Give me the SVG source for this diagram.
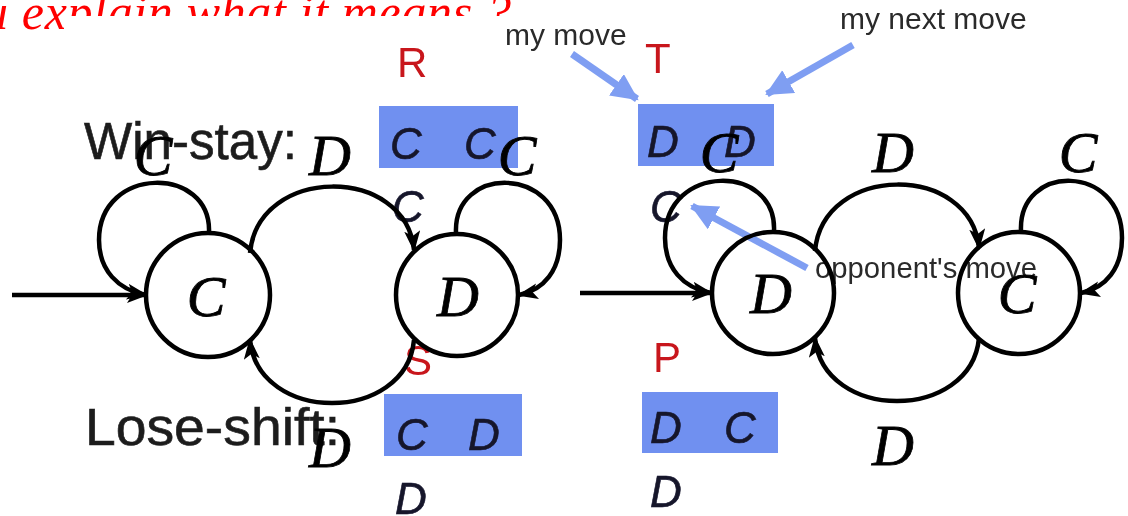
<svg xmlns="http://www.w3.org/2000/svg" width="1128" height="516" viewBox="0 0 1128 516">
<style>
.red-note{font-family:"Liberation Serif",serif;font-style:italic;font-size:50px;fill:#ff0000}
.lbl{font-family:"Liberation Sans",Arial,sans-serif;fill:#1e1e1e}
.big{font-size:51px;stroke:#1e1e1e;stroke-width:0.6}
.small{font-size:30px;fill:#2a2a2a}
.rlet{font-family:"Liberation Sans",Arial,sans-serif;font-size:42px;fill:#c8141a}
.mv{font-family:"Liberation Sans",Arial,sans-serif;font-style:italic;font-size:44px;fill:#14142a;stroke:#14142a;stroke-width:0.6}
.box{fill:#7090f0}
.barrow{stroke:#7f9ef2;stroke-width:7;fill:none;marker-end:url(#bhead)}
.node circle{fill:none;stroke:#000;stroke-width:4.5}
.math{font-family:"Liberation Serif",serif;font-style:italic;font-size:58px;fill:#000;stroke:#000;stroke-width:0.8;text-anchor:middle}
.edge{fill:none;stroke:#000;stroke-width:4.5;marker-end:url(#khead)}
</style>
<defs>
<marker id="khead" markerUnits="userSpaceOnUse" markerWidth="24" markerHeight="20" refX="19" refY="8" orient="auto">
<path d="M0,0 L21,8 L0,16 L5,8 z" fill="#000"/>
</marker>
<marker id="bhead" markerUnits="userSpaceOnUse" markerWidth="30" markerHeight="30" refX="25" refY="13" orient="auto">
<path d="M0,0 L27,13 L0,26 z" fill="#7f9ef2"/>
</marker>
<filter id="soft" x="-5%" y="-5%" width="110%" height="110%">
<feGaussianBlur stdDeviation="0.7"/>
</filter>
</defs>
<rect x="0" y="0" width="1128" height="516" fill="#ffffff"/>
<text class="red-note" x="-17" y="29" textLength="528" lengthAdjust="spacing">u explain what it means ?</text>
<rect x="64" y="16" width="1064" height="500" fill="#ffffff"/>
<g id="scan" filter="url(#soft)">
<rect class="box" x="379" y="106" width="139" height="62"/>
<rect class="box" x="638" y="104" width="136" height="62"/>
<rect class="box" x="384" y="394" width="138" height="62"/>
<rect class="box" x="642" y="392" width="136" height="61"/>
<text class="lbl big" x="84" y="159" textLength="213" lengthAdjust="spacingAndGlyphs">Win-stay:</text>
<text class="lbl big" x="85" y="445" textLength="255" lengthAdjust="spacingAndGlyphs">Lose-shift:</text>
<text class="lbl small" x="505" y="45">my move</text>
<text class="lbl small" x="840" y="29">my next move</text>
<text class="lbl small" x="815" y="278" textLength="222" lengthAdjust="spacingAndGlyphs">opponent's move</text>
<text class="rlet" x="397" y="77">R</text>
<text class="rlet" x="645" y="73">T</text>
<text class="rlet" x="404" y="375">S</text>
<text class="rlet" x="653" y="372">P</text>
<text class="mv" x="390" y="159">C</text>
<text class="mv" x="464" y="159">C</text>
<text class="mv" x="392" y="222">C</text>
<text class="mv" x="647" y="157">D</text>
<text class="mv" x="724" y="157">D</text>
<text class="mv" x="650" y="222">C</text>
<text class="mv" x="396" y="450">C</text>
<text class="mv" x="468" y="450">D</text>
<text class="mv" x="395" y="514">D</text>
<text class="mv" x="650" y="443">D</text>
<text class="mv" x="724" y="443">C</text>
<text class="mv" x="650" y="507">D</text>
<line class="barrow" x1="572" y1="54" x2="637" y2="99"/>
<line class="barrow" x1="853" y1="45" x2="767" y2="94"/>
<line class="barrow" x1="807" y1="268" x2="692" y2="206"/>
</g>
<g id="connectors">
<path class="edge" d="M12 295 L146 295"/>
<path class="edge" d="M209 233 C212 165 99 165 99 240 C99 270 118 290 146 295"/>
<path class="edge" d="M250 253 C258 165 406 165 414 250"/>
<path class="edge" d="M414 340 C406 424 258 424 250 340"/>
<path class="edge" d="M456 233 C453 165 560 165 560 240 C560 270 544 290 519 295"/>
<path class="edge" d="M580 293 L711 293"/>
<path class="edge" d="M774 231 C777 163 665 163 665 238 C665 268 683 288 711 293"/>
<path class="edge" d="M815 251 C823 163 971 163 979 248"/>
<path class="edge" d="M979 338 C971 422 823 422 815 338"/>
<path class="edge" d="M1021 231 C1018 163 1122 163 1122 238 C1122 268 1106 288 1081 293"/>
<text class="math" x="153" y="175">C</text>
<text class="math" x="330" y="175">D</text>
<text class="math" x="517" y="175">C</text>
<text class="math" x="330" y="467">D</text>
<text class="math" x="719" y="172">C</text>
<text class="math" x="893" y="172">D</text>
<text class="math" x="1078" y="172">C</text>
<text class="math" x="893" y="465">D</text>
</g>
<g id="node-left-C" class="node"><circle cx="208" cy="295" r="62"/><text class="math" x="206" y="316">C</text></g>
<g id="node-left-D" class="node"><circle cx="457" cy="295" r="61"/><text class="math" x="458" y="316">D</text></g>
<g id="node-right-D" class="node"><circle cx="773" cy="293" r="61"/><text class="math" x="771" y="313">D</text></g>
<g id="node-right-C" class="node"><circle cx="1019" cy="293" r="61"/><text class="math" x="1017" y="313">C</text></g>
</svg>
